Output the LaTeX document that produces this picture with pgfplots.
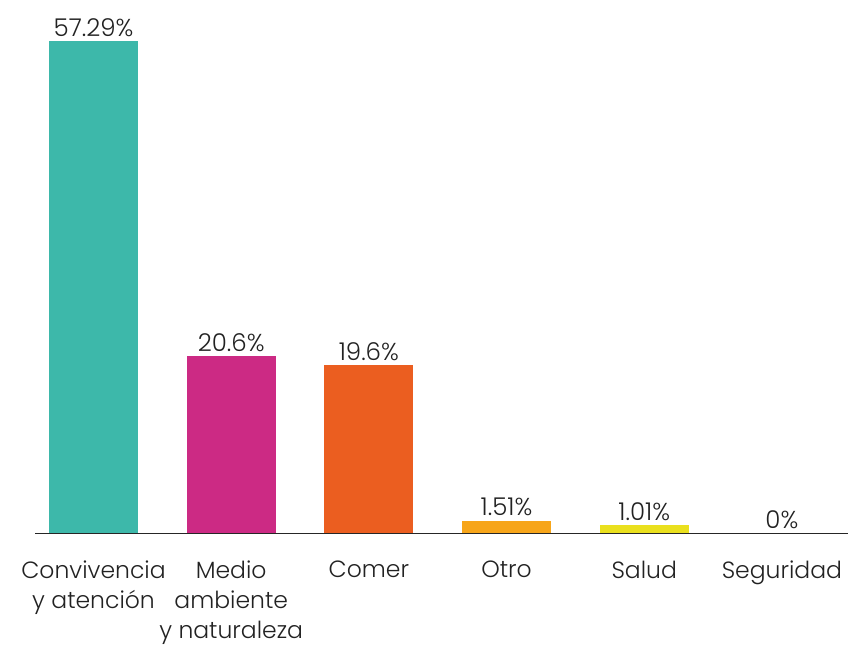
\documentclass[border=0pt]{standalone}
\usepackage{pgfplots}
\pgfplotsset{compat=1.18}
\usepackage{fontspec}
\setmainfont{Poppins Light}
\definecolor{cteal}{HTML}{3DB8AA}
\definecolor{cmag}{HTML}{CC2A84}
\definecolor{corange}{HTML}{EB5E20}
\definecolor{camber}{HTML}{F7A519}
\definecolor{cyellow}{HTML}{EAE01E}
\definecolor{ctext}{HTML}{222222}
\begin{document}
\begin{tikzpicture}
\path[use as bounding box] (-35pt,-113.5pt) rectangle (813pt,533.5pt);
\begin{axis}[
  at={(0pt,0pt)}, anchor=south west,
  scale only axis,
  width=813pt, height=533.5pt,
  xmin=-0.425, xmax=5.48,
  ymin=0, ymax=62.06,
  axis x line=bottom, axis y line=none,
  axis line style={-, black!85, line width=1.2pt},
  xtick={0,1,2,3,4,5},
  xticklabels={{Convivencia\\y atención},{Medio\\ambiente\\y naturaleza},{Comer},{Otro},{Salud},{Seguridad}},
  xticklabel style={align=center, anchor=north, text=ctext, font=\fontsize{23.5}{30}\selectfont, yshift=-24pt},
  major tick length=0pt,
  ybar, bar width=89pt, bar shift=0pt,
  every node near coord/.append style={text=ctext, font=\fontsize{24.5}{28}\selectfont, anchor=south, yshift=1pt},
  clip=false,
]
\addplot[fill=cteal, draw=none, nodes near coords={57.29\%}] coordinates {(0,57.29)};
\addplot[fill=cmag, draw=none, nodes near coords={20.6\%}] coordinates {(1,20.6)};
\addplot[fill=corange, draw=none, nodes near coords={19.6\%}] coordinates {(2,19.6)};
\addplot[fill=camber, draw=none, nodes near coords={1.51\%}] coordinates {(3,1.51)};
\addplot[fill=cyellow, draw=none, nodes near coords={1.01\%}] coordinates {(4,1.01)};
\addplot[fill=none, draw=none, nodes near coords={0\%}] coordinates {(5,0)};
\end{axis}
\end{tikzpicture}
\end{document}
